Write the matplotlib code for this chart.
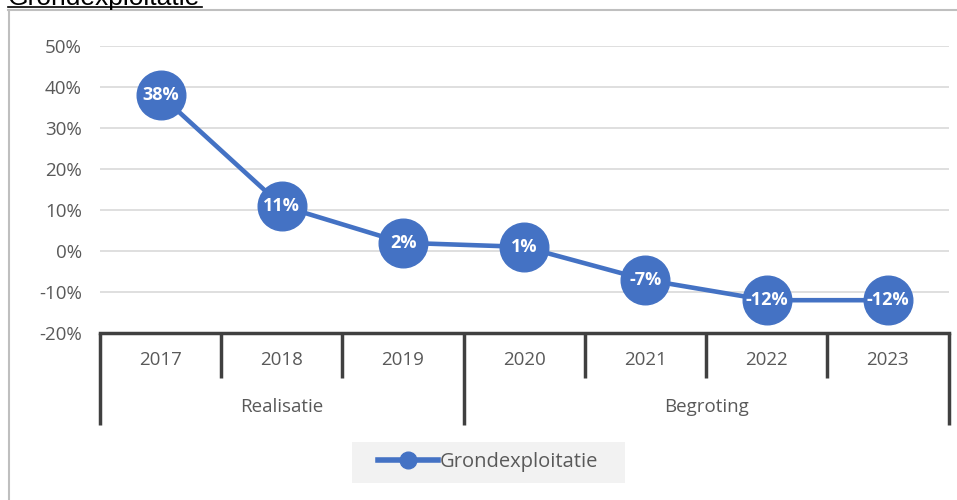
import matplotlib.pyplot as plt
import matplotlib.lines as mlines
import matplotlib.patches as mpatches

# --- data ---
years = ['2017', '2018', '2019', '2020', '2021', '2022', '2023']
values = [38, 11, 2, 1, -7, -12, -12]
groups = ['Realisatie', 'Begroting']
group_sizes = [3, 4]
series_name = 'Grondexploitatie'
y_ticks = [-20, -10, 0, 10, 20, 30, 40, 50]

blue = '#4472C4'
text_grey = '#595959'
W, H = 957, 500

plt.rcParams['font.family'] = ['Open Sans', 'DejaVu Sans']

fig = plt.figure(figsize=(W / 100, H / 100), dpi=100)

# rand van het grafiekgebied + titel (afgesneden bovenaan, zoals in het origineel)
fig.add_artist(mlines.Line2D([8 / W, 1], [1 - 9.5 / H] * 2, color='#bfbfbf', lw=1.5))
fig.add_artist(mlines.Line2D([8.5 / W] * 2, [0, 1 - 9.5 / H], color='#bfbfbf', lw=1.5))
fig.text(8 / W, 1 - 5 / H, series_name, fontsize=19, family='Liberation Sans',
         color='black', va='baseline', ha='left')
fig.add_artist(mlines.Line2D([8 / W, 202 / W], [1 - 7 / H] * 2, color='black', lw=1.2))

# plotgebied
left, right = 100 / W, 948.5 / W
bottom, top = 1 - 333 / H, 1 - 46 / H
ax = fig.add_axes([left, bottom, right - left, top - bottom])

x = list(range(len(years)))
ax.plot(x, values, color=blue, lw=3.3, marker='o', markersize=35,
        markerfacecolor=blue, markeredgecolor=blue, zorder=3)
for xi, v in zip(x, values):
    ax.text(xi, v, f'{v}%', ha='center', va='center', color='white',
            fontsize=13, fontweight='bold', zorder=4)

ax.set_xlim(-0.5, len(years) - 0.5)
ax.set_ylim(-20, 50)
ax.set_yticks(y_ticks)
ax.set_yticklabels([f'{t}%' for t in y_ticks], color=text_grey, fontsize=13.5)
ax.tick_params(axis='y', length=0, pad=13)
ax.set_xticks([])
for t in y_ticks[1:]:
    ax.axhline(t, color='#d9d9d9', lw=1.2, zorder=1)
for s in ['left', 'right', 'top']:
    ax.spines[s].set_visible(False)
ax.spines['bottom'].set_color('#404040')
ax.spines['bottom'].set_linewidth(2.5)

# categorie-as met twee niveaus
trans = ax.get_xaxis_transform()
ph = 287.0
y_year = -27 / ph
y_group = -74 / ph
y_short = -45 / ph
y_long = -92 / ph

for xi, yr in zip(x, years):
    ax.text(xi, y_year, yr, transform=trans, ha='center', va='center',
            fontsize=13.5, color=text_grey)

bounds = [-0.5]
for n in group_sizes:
    bounds.append(bounds[-1] + n)
start = -0.5
for g, n in zip(groups, group_sizes):
    ax.text(start + n / 2, y_group, g, transform=trans, ha='center', va='center',
            fontsize=13.5, color=text_grey)
    start += n

for b in [i - 0.5 for i in range(len(years) + 1)]:
    yl = y_long if b in bounds else y_short
    ax.plot([b, b], [0, yl], transform=trans, color='#404040', lw=2.5,
            clip_on=False, solid_capstyle='butt')

# legenda met grijze achtergrond
fig.add_artist(mpatches.Rectangle((352 / W, 1 - 483 / H), 273 / W, 41 / H,
                                  transform=fig.transFigure, facecolor='#f2f2f2',
                                  edgecolor='none', zorder=0))
leg_h = mlines.Line2D([], [], color=blue, lw=4, marker='o', markersize=12,
                      markerfacecolor=blue, markeredgecolor=blue)
leg = fig.legend([leg_h], [series_name], loc='center',
                 bbox_to_anchor=(488 / W, 1 - 462 / H), frameon=False,
                 fontsize=14.5, handlelength=3.0, handletextpad=0.1,
                 labelcolor=text_grey)

fig.savefig('out.png', dpi=100)
